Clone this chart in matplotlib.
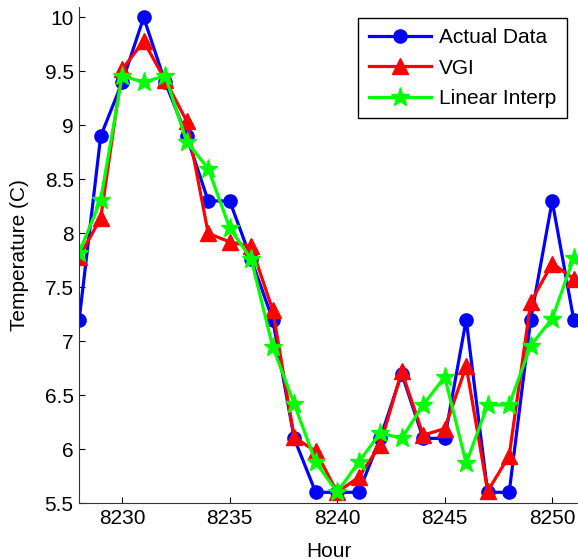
import matplotlib.pyplot as plt
import numpy as np
from matplotlib.ticker import FormatStrFormatter

# hours on the x axis
hours = list(range(8228, 8252))

actual = [7.2, 8.9, 9.4, 10.0, 9.4, 8.9, 8.3, 8.3, 7.76, 7.2, 6.1, 5.6,
          5.6, 5.6, 6.1, 6.7, 6.1, 6.1, 7.2, 5.6, 5.6, 7.2, 8.3, 7.2]
vgi = [7.78, 8.14, 9.52, 9.78, 9.42, 9.04, 8.0, 7.92, 7.88, 7.29, 6.11, 5.98,
       5.6, 5.74, 6.04, 6.72, 6.13, 6.19, 6.77, 5.61, 5.94, 7.36, 7.72, 7.58]
linear = [7.82, 8.31, 9.46, 9.4, 9.46, 8.85, 8.6, 8.05, 7.76, 6.95, 6.42, 5.88,
          5.6, 5.88, 6.15, 6.1, 6.41, 6.67, 5.87, 6.41, 6.41, 6.96, 7.21, 7.77]

xticks = [8230, 8235, 8240, 8245, 8250]
yticks = [5.5, 6, 6.5, 7, 7.5, 8, 8.5, 9, 9.5, 10]

plt.rcParams['font.family'] = ['Liberation Sans', 'DejaVu Sans']

fig = plt.figure(figsize=(5.78, 5.59), dpi=100)
ax = fig.add_axes([0.137, 0.1, 0.863, 0.888])

ax.plot(hours, actual, color=(0, 0, 1), lw=2.3, marker='o', ms=9.5,
        label='Actual Data')
ax.plot(hours, vgi, color=(1, 0, 0), lw=2.3, marker='^', ms=12,
        label='VGI')
ax.plot(hours, linear, color=(0, 1, 0), lw=2.3, marker='*', ms=14,
        label='Linear Interp')

ax.set_xlim(8228, 8251.2)
ax.set_ylim(5.5, 10.1)
ax.set_xticks(xticks)
ax.set_yticks(yticks)
ax.yaxis.set_major_formatter(FormatStrFormatter('%g'))
ax.tick_params(direction='in', labelsize=15, length=4, width=0.8, pad=4)
ax.spines['top'].set_visible(False)
ax.spines['right'].set_visible(False)
for s in ['left', 'bottom']:
    ax.spines[s].set_color('#333333')

ax.set_xlabel('Hour', fontsize=15, labelpad=10)
ax.set_ylabel('Temperature (C)', fontsize=15, labelpad=11)

leg = ax.legend(loc='upper right', bbox_to_anchor=(0.978, 0.978), fontsize=15,
                fancybox=False, framealpha=1, edgecolor='black',
                handlelength=3.0, handletextpad=0.4, borderpad=0.5,
                labelspacing=0.55, borderaxespad=0)
leg.get_frame().set_linewidth(1.0)

fig.savefig('out.png', dpi=100)
